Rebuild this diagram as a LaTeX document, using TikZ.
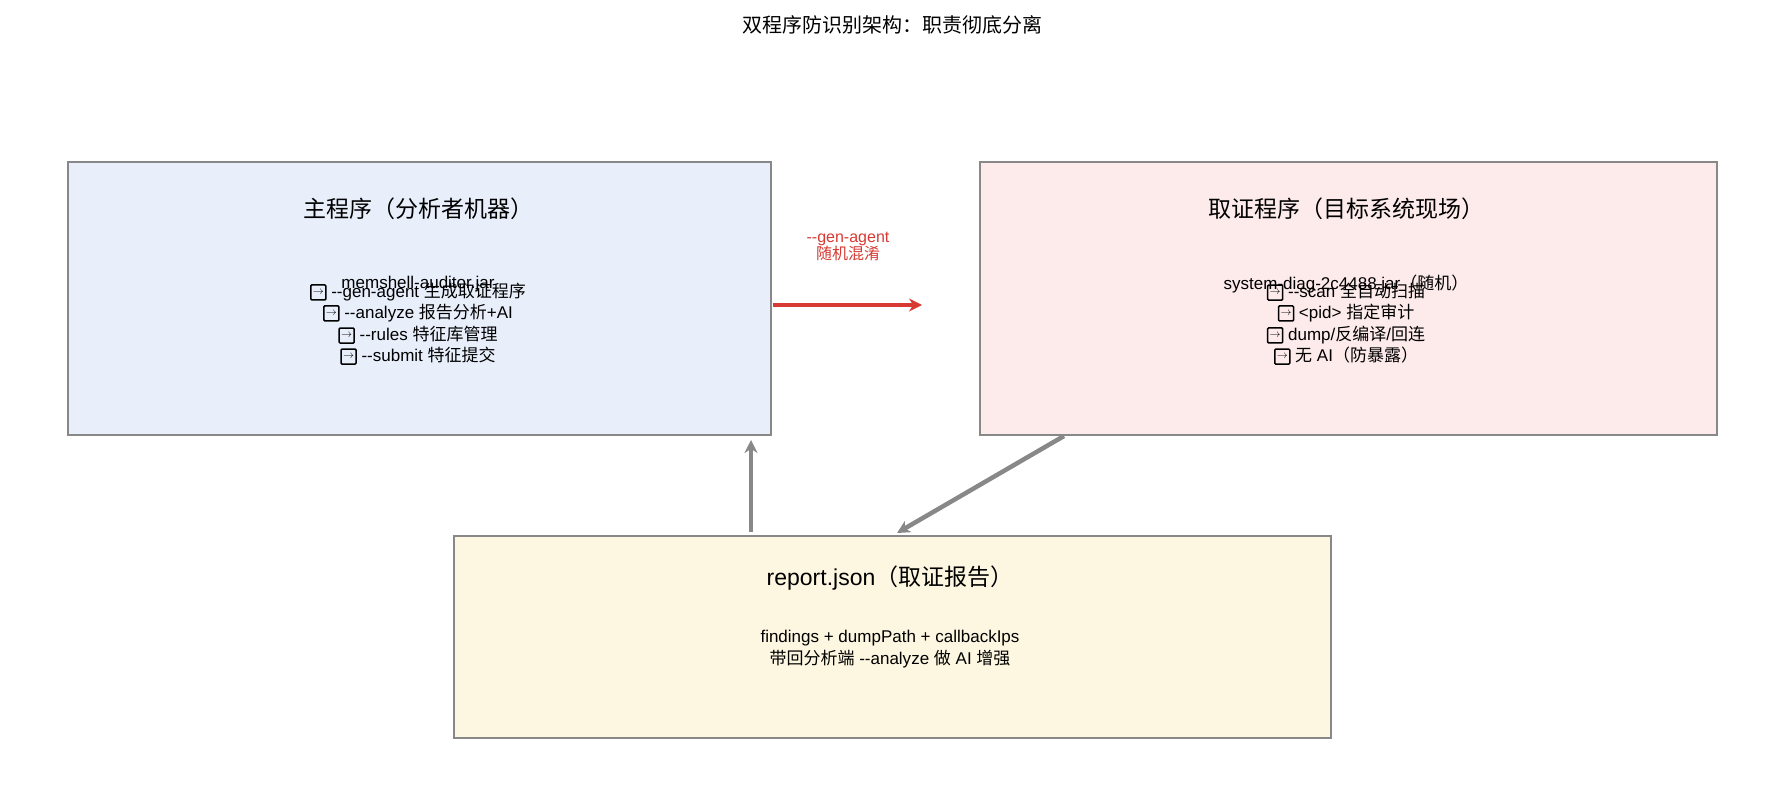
\documentclass[tikz,border=0pt]{standalone}
\usepackage{fontspec}
\setmainfont{Liberation Sans}
\newfontfamily\cjk{Noto Sans CJK SC}
\usetikzlibrary{arrows.meta}
\definecolor{bA}{HTML}{E8EFFB}\definecolor{bB}{HTML}{FDEAEA}\definecolor{bC}{HTML}{FDF6E0}
\definecolor{edg}{HTML}{888888}\definecolor{rd}{HTML}{D63A33}
\newcommand{\ico}{\tikz[baseline=-5pt]{\draw[line width=1.5pt,rounded corners=1pt](-7.5pt,-7.5pt)rectangle(7.5pt,7.5pt);\node[font=\fontsize{11}{11}\selectfont,inner sep=0]{$\to$};}}
\newcommand{\C}[1]{{\cjk #1}}
\begin{document}
\begin{tikzpicture}[x=1pt,y=-1pt,
 box/.style={draw=edg,line width=1.8pt},
 txt/.style={font=\fontsize{17}{20}\selectfont,inner sep=0,align=center},
 ttl/.style={font=\fontsize{23}{26}\selectfont,inner sep=0},
 arr/.style={line width=4.5pt,edg,-{Stealth[length=13pt,width=13pt]}}]
\useasboundingbox (0,0) rectangle (1785,810);
\node[font=\fontsize{20}{22}\selectfont] (t) at (892,25) {\C{双程序防识别架构：职责彻底分离}};
\draw[box,fill=bA] (68,162) rectangle (771,435);
\draw[box,fill=bB] (980,162) rectangle (1717,435);
\draw[box,fill=bC] (454,536) rectangle (1331,738);
\coordinate (a1) at (773,305); \coordinate (b2) at (922,305);
\coordinate (c1) at (751,532); \coordinate (c2) at (751,440);
\coordinate (d1) at (1064,436); \coordinate (d2) at (897,533);
\node[ttl] (h1) at (418,209) {\C{主程序（分析者机器）}};
\node[txt] (j1) at (418,284) {memshell-auditor.jar};
\node[txt] (l1) at (418,292) {\ico\ -{}-gen-agent \C{生成取证程序}};
\node[txt] (l2) at (418,313) {\ico\ -{}-analyze \C{报告分析}+AI};
\node[txt] (l3) at (418,335) {\ico\ -{}-rules \C{特征库管理}};
\node[txt] (l4) at (418,356) {\ico\ -{}-submit \C{特征提交}};
\node[ttl] (h2) at (1346,209) {\C{取证程序（目标系统现场）}};
\node[txt] (j2) at (1346,284) {system-diag-2c4488.jar\C{（随机）}};
\node[txt] (m1) at (1346,292) {\ico\ -{}-scan \C{全自动扫描}};
\node[txt] (m2) at (1346,313) {\ico\ <pid> \C{指定审计}};
\node[txt] (m3) at (1346,335) {\ico\ dump/\C{反编译}/\C{回连}};
\node[txt] (m4) at (1346,356) {\ico\ \C{无} AI\C{（防暴露）}};
\node[ttl] (h3) at (890,578) {report.json\C{（取证报告）}};
\node[txt] (n1) at (890,638) {findings + dumpPath + callbackIps};
\node[txt] (n2) at (890,659) {\C{带回分析端} -{}-analyze \C{做} AI \C{增强}};
\node[font=\fontsize{16}{18}\selectfont,text=rd,align=center] (lb) at (848,246) {-{}-gen-agent\\[-1pt]\C{随机混淆}};
\draw[arr,rd] (a1) -- (b2);
\draw[arr] (c1) -- (c2);
\draw[arr] (d1) -- (d2);
\end{tikzpicture}
\end{document}
